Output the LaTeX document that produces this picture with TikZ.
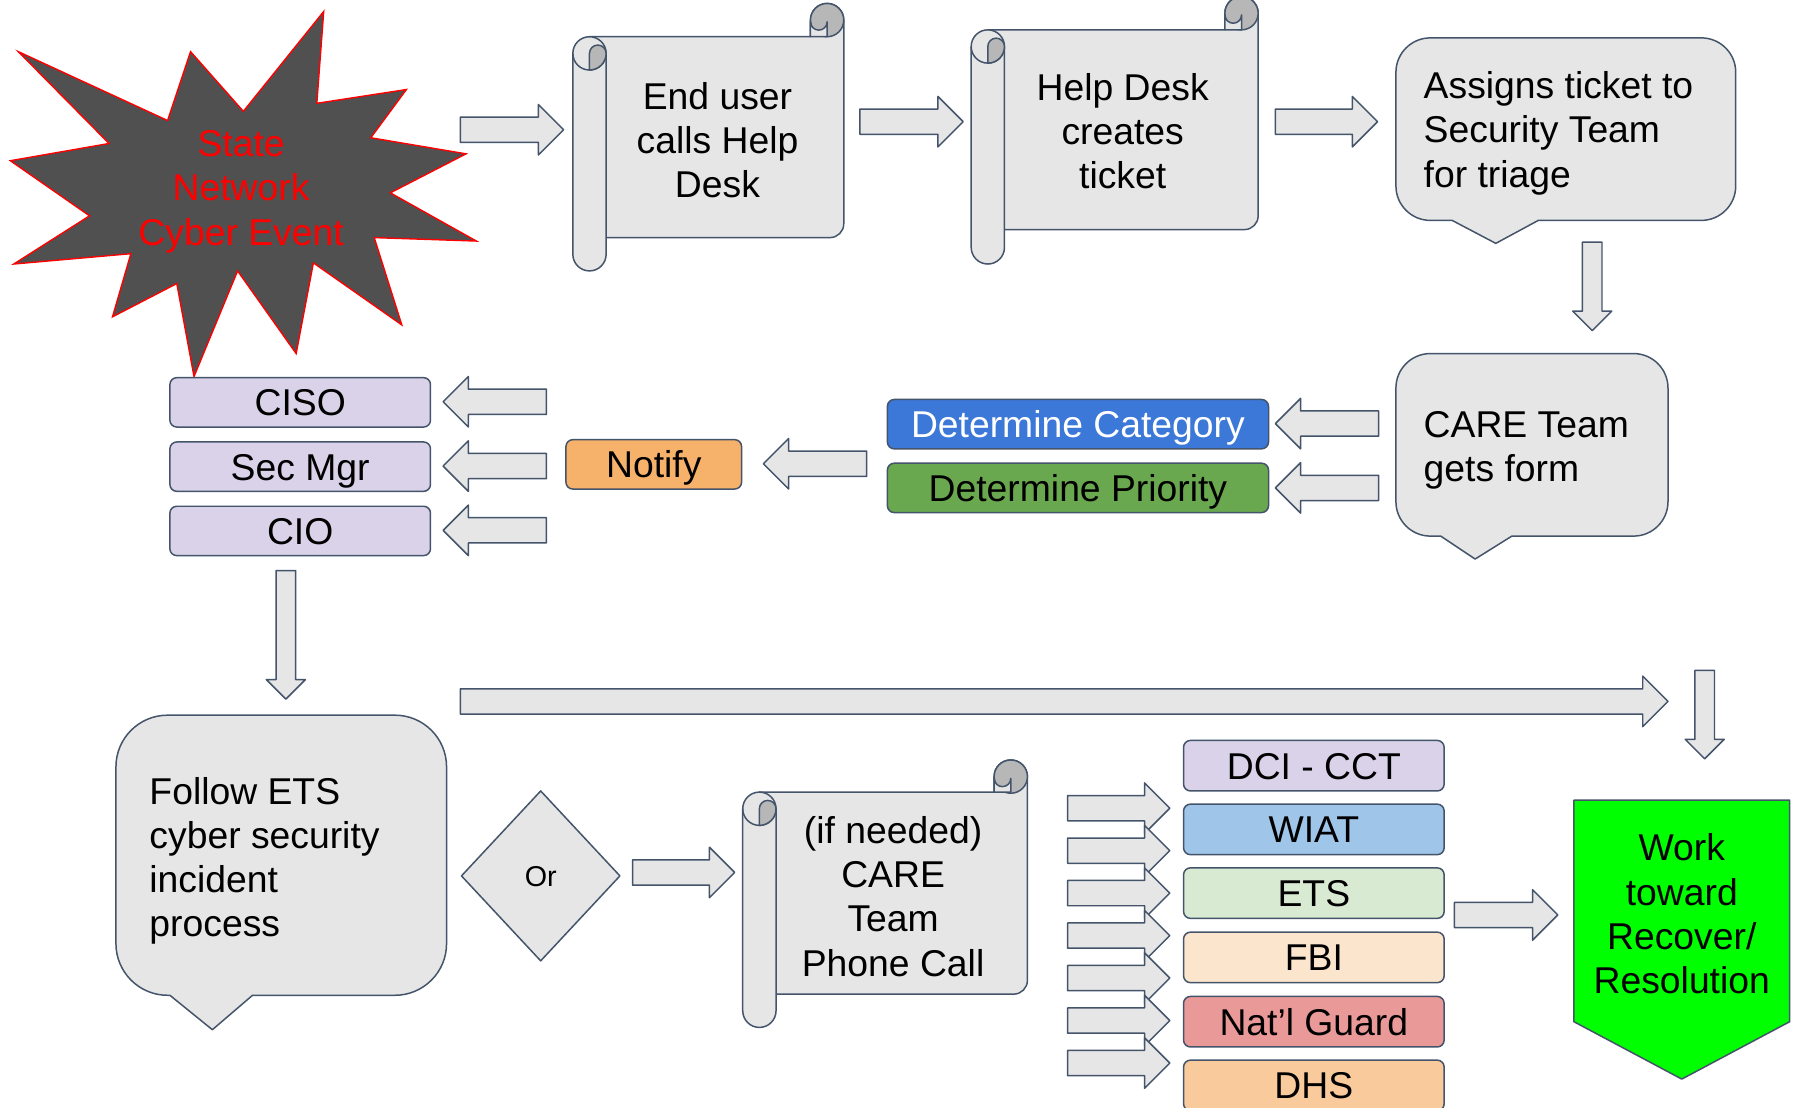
\documentclass[tikz,border=0pt]{standalone}
\usepackage{fontspec}
\setmainfont{Liberation Sans}
\definecolor{lineC}{HTML}{44546A}
\definecolor{boxG}{HTML}{E6E6E6}
\definecolor{curlC}{HTML}{B7B7B7}
\definecolor{starF}{HTML}{505050}
\definecolor{lav}{HTML}{D9D2E9}
\definecolor{catB}{HTML}{3C78D8}
\definecolor{priG}{HTML}{6AA84F}
\definecolor{notO}{HTML}{F6B26B}
\definecolor{wiatB}{HTML}{9FC5E8}
\definecolor{etsG}{HTML}{D9EAD3}
\definecolor{fbiO}{HTML}{FCE5CD}
\definecolor{natR}{HTML}{EA9999}
\definecolor{dhsO}{HTML}{F9CB9C}
\definecolor{workG}{HTML}{00FF00}
\tikzset{
  shp/.style={draw=lineC, line width=1.3pt, fill=boxG, line join=round},
  shpline/.style={draw=lineC, line width=1.3pt},
  txt/.style={font=\fontsize{32.5}{38.5}\selectfont, inner sep=0pt, align=center},
  ltxt/.style={txt, align=left, anchor=west},
  sbox/.style={draw=lineC, line width=1.3pt, rounded corners=6pt, inner sep=0pt,
    font=\fontsize{32.5}{38.5}\selectfont, minimum height=43pt,
    text height=23.3pt, text depth=0pt, minimum width=227pt},
}
% right block arrow: x1 tail, x2 tip, y
\newcommand\arR[3]{\filldraw[shp] (#1,{#3-11}) -- ({#2-22},{#3-11}) -- ({#2-22},{#3-22}) -- (#2,#3) -- ({#2-22},{#3+22}) -- ({#2-22},{#3+11}) -- (#1,{#3+11}) -- cycle;}
% left block arrow: x1 tip, x2 tail, y
\newcommand\arL[3]{\filldraw[shp] (#2,{#3-11}) -- ({#1+22},{#3-11}) -- ({#1+22},{#3-22}) -- (#1,#3) -- ({#1+22},{#3+22}) -- ({#1+22},{#3+11}) -- (#2,{#3+11}) -- cycle;}
% down block arrow: x, top y, tip y
\newcommand\arD[3]{\filldraw[shp] ({#1-8.5},#2) -- ({#1+8.5},#2) -- ({#1+8.5},{#3-17}) -- ({#1+17},{#3-17}) -- (#1,#3) -- ({#1-17},{#3-17}) -- ({#1-8.5},{#3-17}) -- cycle;}
% scroll: L, R, y0 (curl top), T (body top), B (body bottom), Bb (roll bottom)
\newcommand\scrollshape[6]{%
  \filldraw[shp] ({#1+14.5},#4) -- ({#2-29},#4) -- ({#2-29},{#3+14.5}) arc[start angle=180,end angle=360,radius=14.5] -- (#2,{#5-12}) arc[start angle=0,end angle=90,radius=12] -- ({#1+14.5},#5) -- cycle;
  \filldraw[shp, fill=curlC] ({#2-14.5},{#3+14.5}) circle[radius=14.5];
  \filldraw[shp] ({#2-29},#4) -- ({#2-29},{#3+16}) arc[start angle=180,end angle=0,radius=7.25] -- ({#2-14.5},#4) -- cycle;
  \filldraw[shp] (#1,{#4+14.5}) arc[start angle=180,end angle=360,radius=14.5] -- ({#1+29},{#6-14.5}) arc[start angle=0,end angle=180,radius=14.5] -- cycle;
  \draw[shpline] (#1,{#4+14.5}) arc[start angle=180,end angle=0,radius=14.5];
  \filldraw[shp, fill=curlC] ({#1+14.5},{#4+29}) -- ({#1+14.5},{#4+14.5}) arc[start angle=180,end angle=360,radius=7.25] arc[start angle=0,end angle=90,radius=14.5] -- cycle;
}
% callout: x1,y1,x2,y2,r,p1,p2,tipx,tipy
\newcommand\calloutshape[9]{%
  \filldraw[shp] ({#1+#5},#2) -- ({#3-#5},#2) arc[start angle=270,end angle=360,radius=#5] -- (#3,{#4-#5}) arc[start angle=0,end angle=90,radius=#5] -- (#7,#4) -- (#8,#9) -- (#6,#4) -- ({#1+#5},#4) arc[start angle=90,end angle=180,radius=#5] -- (#1,{#2+#5}) arc[start angle=180,end angle=270,radius=#5] -- cycle;}
\begin{document}
\begin{tikzpicture}[x=1pt, y=-1pt]
\useasboundingbox[fill=white] (0,0) rectangle (1568,965);

% star
\filldraw[fill=starF, draw=red, line width=1.2pt, line join=miter]
 (282,10) -- (276,90) -- (354,78) -- (323,120) -- (406,134) -- (340,168) -- (415,210) -- (326,207) -- (350,283) -- (273,229) -- (258,308) -- (207,236) -- (169,328) -- (154,247) -- (98,276) -- (114,221) -- (12,230) -- (78,188) -- (9,140) -- (95,125) -- (16,45) -- (146,105) -- (166,45) -- (212,97) -- cycle;
\node[txt, text=red] (event) at (210,167) {State\\Network\\Cyber Event};

% top row
\arR{401}{491}{113}
\scrollshape{499}{735}{3}{32}{207}{236}
\node[txt] (enduser) at (625,122) {End user\\calls Help\\Desk};
\arR{749}{839}{106}
\scrollshape{846}{1096}{-3}{26}{200}{230}
\node[txt] (helpdesk) at (978,114) {Help Desk\\creates\\ticket};
\arR{1111}{1200}{106}
\calloutshape{1216}{33}{1512}{192}{30}{1265}{1340}{1303}{212}
\node[ltxt] (assigns) at (1240,116) {Assigns ticket to\\Security Team\\for triage};
\arD{1387}{211}{288}
\calloutshape{1216}{308}{1453}{467}{30}{1255}{1317}{1285}{487}
\node[ltxt] (care) at (1240,392) {CARE Team\\gets form};

% middle row
\arL{1111}{1201}{369}
\arL{1111}{1201}{425}
\node[sbox, fill=catB, text=white, minimum width=332pt] (cat) at (939,369.5) {Determine Category};
\node[sbox, fill=priG, minimum width=332pt] (pri) at (939,425) {Determine Priority};
\arL{665}{755}{404}
\node[sbox, fill=notO, minimum width=153pt] (notify) at (569.5,404.5) {Notify};
\arL{386}{476}{350}
\arL{386}{476}{406}
\arL{386}{476}{462}
\node[sbox, fill=lav] (ciso) at (261.5,350.5) {CISO};
\node[sbox, fill=lav] (secmgr) at (261.5,406.5) {Sec Mgr};
\node[sbox, fill=lav] (cio) at (261.5,462.5) {CIO};

% lower part
\arD{249}{497}{609}
\arR{401}{1453}{611}
\arD{1485}{584}{661}
\calloutshape{101}{623}{389}{867}{45}{148}{220}{185}{897}
\node[ltxt] (follow) at (130,750) {Follow ETS\\cyber security\\incident\\process};
\filldraw[shp] (471,689) -- (540,763) -- (471,837) -- (402,763) -- cycle;
\node[txt, font=\fontsize{25}{30}\selectfont] (or) at (471,764) {Or};
\arR{551}{640}{760}
\scrollshape{647}{895}{662}{690}{866}{895}
\node[txt] (phone) at (778,781) {(if needed)\\CARE\\Team\\Phone Call};

\arR{930}{1019}{704}
\arR{930}{1019}{741}
\arR{930}{1019}{778}
\arR{930}{1019}{815}
\arR{930}{1019}{852}
\arR{930}{1019}{889}
\arR{930}{1019}{926}
\node[sbox, fill=lav, minimum height=44pt] (dci) at (1144.5,667) {DCI - CCT};
\node[sbox, fill=wiatB, minimum height=44pt] (wiat) at (1144.5,722.5) {WIAT};
\node[sbox, fill=etsG, minimum height=44pt] (ets) at (1144.5,778) {ETS};
\node[sbox, fill=fbiO, minimum height=44pt] (fbi) at (1144.5,834) {FBI};
\node[sbox, fill=natR, minimum height=44pt] (natl) at (1144.5,890) {Nat’l Guard};
\node[sbox, fill=dhsO, minimum height=44pt] (dhs) at (1144.5,945.5) {DHS};

\arR{1267}{1357}{797}
\filldraw[shp, fill=workG] (1371,697) -- (1559,697) -- (1559,890) -- (1465,940) -- (1371,890) -- cycle;
\node[txt] (work) at (1465,796) {Work\\toward\\Recover/\\Resolution};
\end{tikzpicture}
\end{document}
